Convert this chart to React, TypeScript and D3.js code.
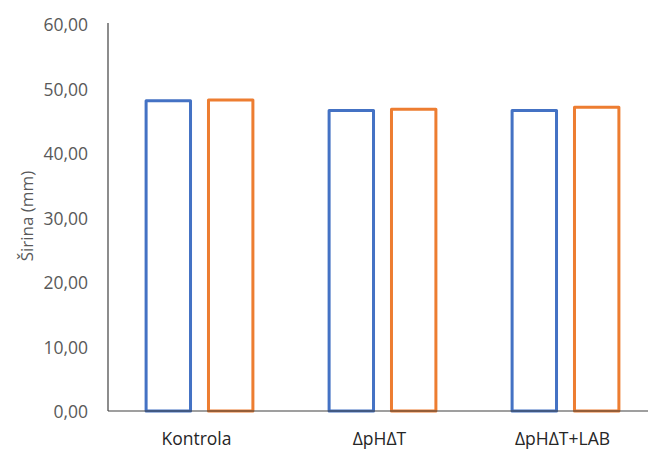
import React from "react";
import * as d3 from "d3";

const categories = ["Kontrola", "ΔpHΔT", "ΔpHΔT+LAB"];
const seriesNames = ["Serija 1", "Serija 2"];
const series1 = [48.1, 46.6, 46.6];
const series2 = [48.2, 46.8, 47.1];
const yTicks = [0, 10, 20, 30, 40, 50, 60];
const colors = ["#4472C4", "#ED7D31"];

export default function App() {
  const W = 648, H = 450;
  const left = 108, right = 657, top = 24, bottom = 411;
  const x0 = d3.scaleBand().domain(categories).range([left, right]).paddingInner(0.4).paddingOuter(0.2);
  const x1 = d3.scaleBand().domain(seriesNames).range([0, x0.bandwidth()]).paddingInner(0.24);
  const y = d3.scaleLinear().domain([0, 60]).range([bottom, top]);
  const fmt = (v: number) => v.toFixed(2).replace(".", ",");
  const data = [series1, series2];
  const font = "'Open Sans', 'Liberation Sans', sans-serif";
  return (
    <svg width={W} height={H} style={{ position: "absolute", left: 0, top: 0, background: "#fff" }}>
      <rect width={W} height={H} fill="#fff" />
      {yTicks.map((t) => (
        <text key={t} x={88} y={y(t) + 1} dy="0.35em" textAnchor="end" fontFamily={font} fontSize={17.5} fill="#595959">
          {fmt(t)}
        </text>
      ))}
      <text transform={`translate(33,216) rotate(-90)`} textAnchor="middle" fontFamily={font} fontSize={17} fill="#595959">
        Širina (mm)
      </text>
      {categories.map((c, i) =>
        data.map((s, j) => {
          const bx = (x0(c) as number) + (x1(seriesNames[j]) as number);
          const bw = x1.bandwidth();
          return (
            <rect key={c + j} x={bx + 1.5} y={y(s[i])} width={bw - 3} height={y(0) - y(s[i])} fill="none" stroke={colors[j]} strokeWidth={3} strokeLinejoin="round" />
          );
        })
      )}
      <line x1={left} x2={W} y1={bottom} y2={bottom} stroke="#404040" strokeWidth={1.2} />
      <line x1={left} x2={left} y1={top - 1} y2={bottom} stroke="#404040" strokeWidth={1.2} />
      {categories.map((c) => (
        <text key={c} x={(x0(c) as number) + x0.bandwidth() / 2 - 3} y={445} textAnchor="middle" fontFamily={font} fontSize={17.5} fill="#262626">
          {c}
        </text>
      ))}
    </svg>
  );
}
